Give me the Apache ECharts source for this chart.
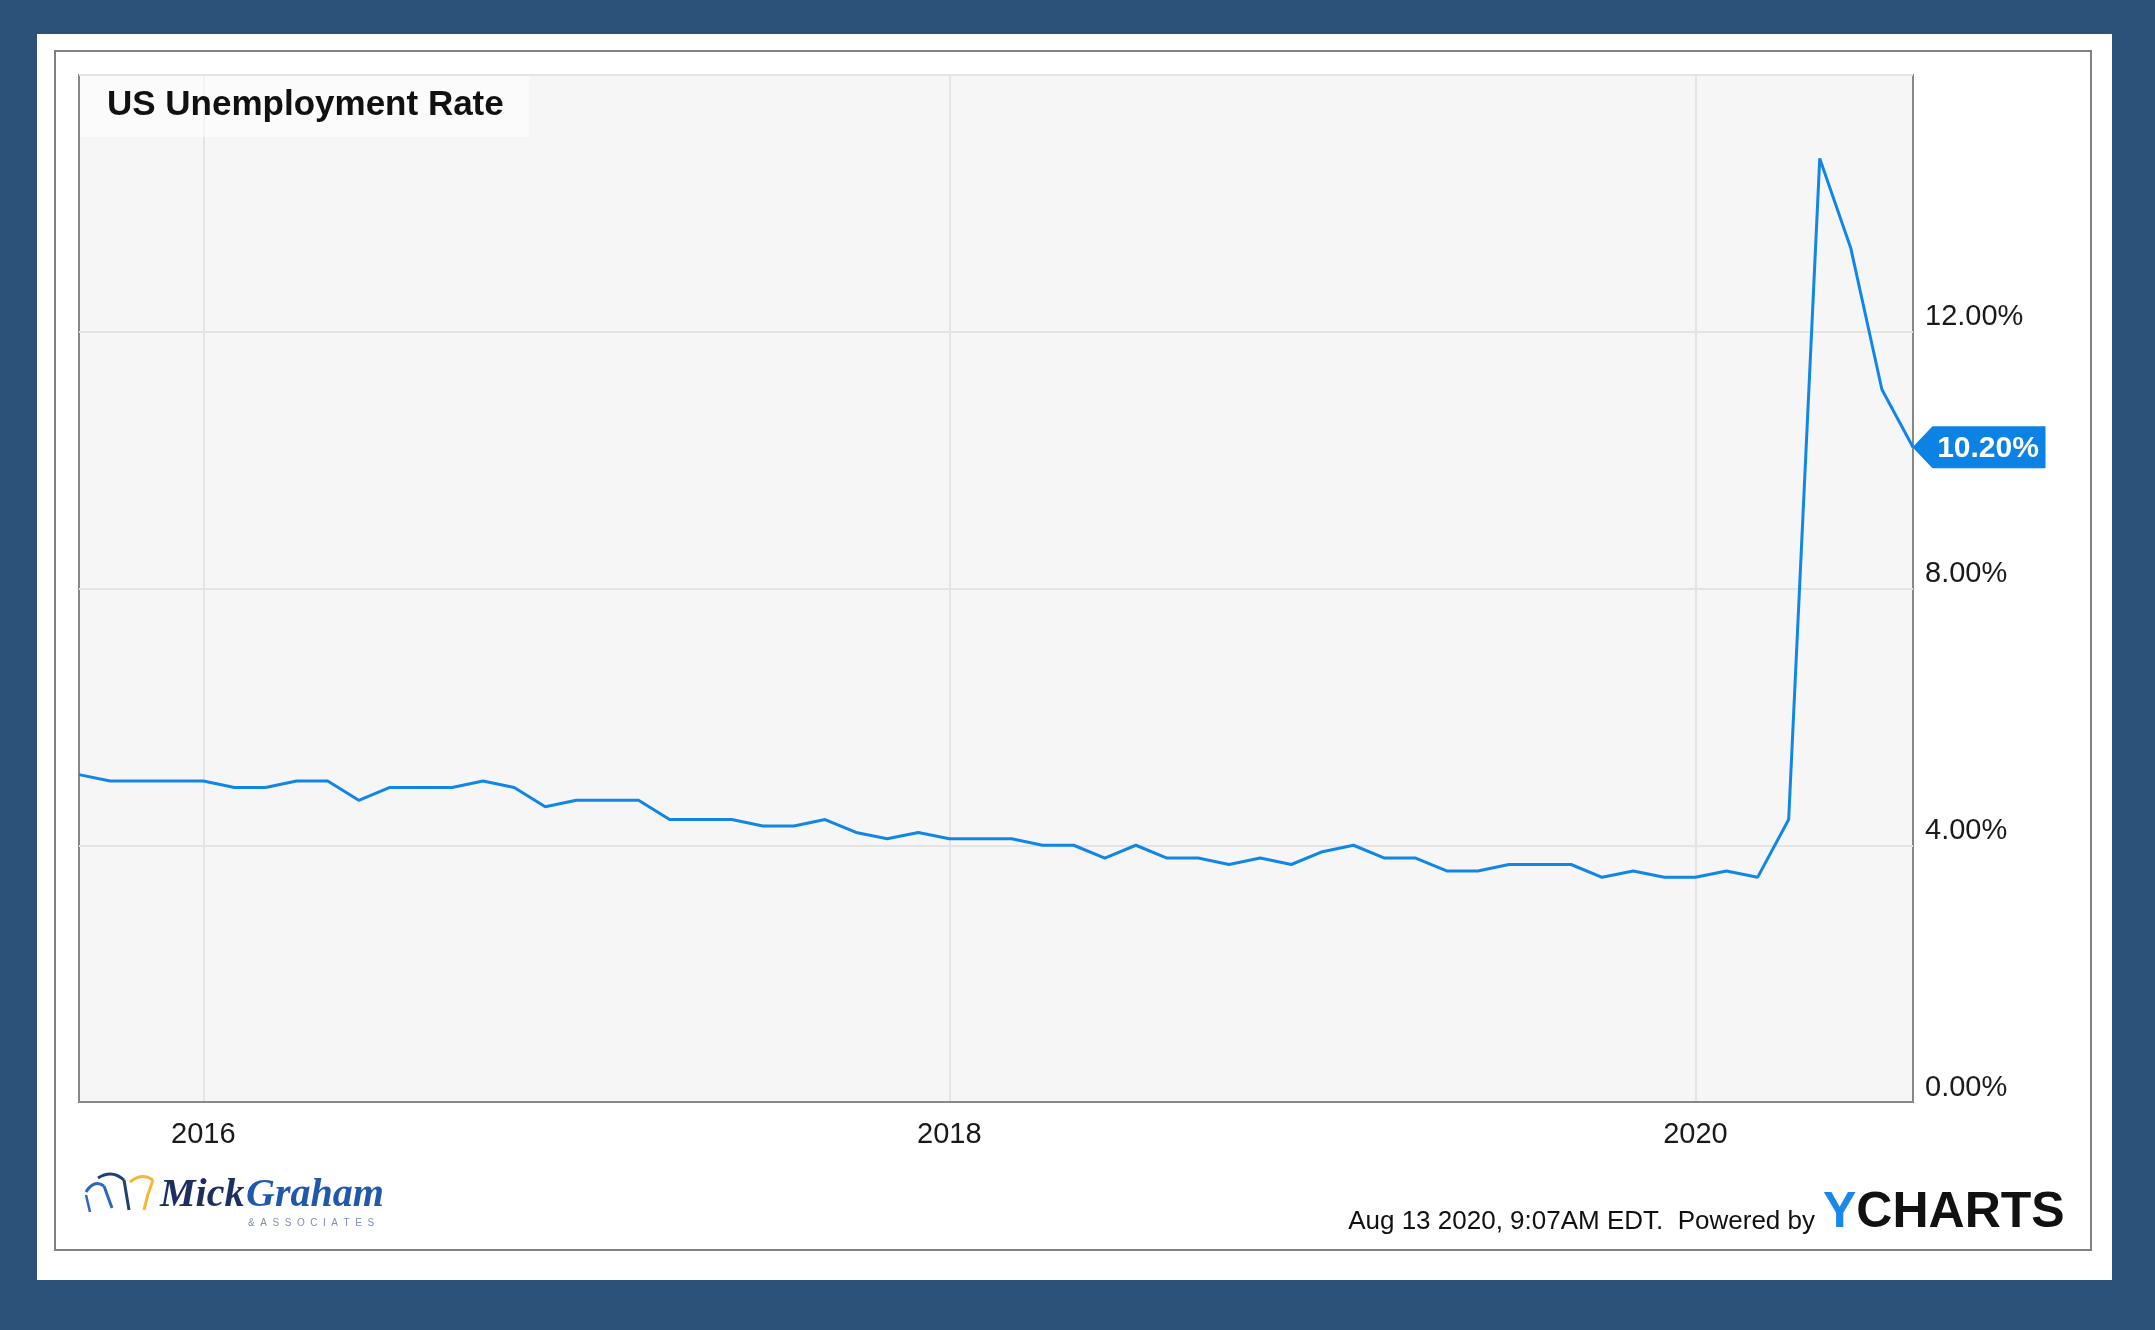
<!DOCTYPE html>
<html>
<head>
<meta charset="utf-8">
<script src="https://cdn.jsdelivr.net/npm/echarts@6/dist/echarts.min.js"></script>
<style>
  html, body { margin: 0; padding: 0; background: #2d5279; }
  #chart { width: 2155px; height: 1330px; }
</style>
</head>
<body>
<div id="chart"></div>
<script>
// Month-end observations, Aug 2015 – Jul 2020
const months2015 = ['2015-08','2015-09','2015-10','2015-11','2015-12'];
const months2016 = ['2016-01','2016-02','2016-03','2016-04','2016-05','2016-06','2016-07','2016-08','2016-09','2016-10','2016-11','2016-12'];
const months2017 = ['2017-01','2017-02','2017-03','2017-04','2017-05','2017-06','2017-07','2017-08','2017-09','2017-10','2017-11','2017-12'];
const months2018 = ['2018-01','2018-02','2018-03','2018-04','2018-05','2018-06','2018-07','2018-08','2018-09','2018-10','2018-11','2018-12'];
const months2019 = ['2019-01','2019-02','2019-03','2019-04','2019-05','2019-06','2019-07','2019-08','2019-09','2019-10','2019-11','2019-12'];
const months2020 = ['2020-01','2020-02','2020-03','2020-04','2020-05','2020-06','2020-07'];

const rate2015 = [5.1, 5.0, 5.0, 5.0, 5.0];
const rate2016 = [4.9, 4.9, 5.0, 5.0, 4.7, 4.9, 4.9, 4.9, 5.0, 4.9, 4.6, 4.7];
const rate2017 = [4.7, 4.7, 4.4, 4.4, 4.4, 4.3, 4.3, 4.4, 4.2, 4.1, 4.2, 4.1];
const rate2018 = [4.1, 4.1, 4.0, 4.0, 3.8, 4.0, 3.8, 3.8, 3.7, 3.8, 3.7, 3.9];
const rate2019 = [4.0, 3.8, 3.8, 3.6, 3.6, 3.7, 3.7, 3.7, 3.5, 3.6, 3.5, 3.5];
const rate2020 = [3.6, 3.5, 4.4, 14.7, 13.3, 11.1, 10.2];

// x tick positions (month-end of December = start of next year) and their labels
const xTickCats = ['2015-12', '2017-12', '2019-12'];
const xTickLabels = ['2016', '2018', '2020'];

// y ticks
const yMin = 0, yMax = 16, yStep = 4;

const categories = [].concat(months2015, months2016, months2017, months2018, months2019, months2020);
const values = [].concat(rate2015, rate2016, rate2017, rate2018, rate2019, rate2020);
const lastCat = categories[categories.length - 1];
const lastVal = values[values.length - 1];

const lineColor = '#1286e6';
const chart = echarts.init(document.getElementById('chart'), null, { renderer: 'canvas' });

const isTick = (idx, val) => xTickCats.indexOf(val) >= 0;

const option = {
  animation: false,
  backgroundColor: '#2d5279',
  grid: {
    left: 79, top: 75, right: 242, bottom: 228,
    show: true, backgroundColor: '#f6f6f6', borderColor: '#888888', borderWidth: 2
  },
  xAxis: {
    type: 'category',
    data: categories,
    boundaryGap: false,
    axisLine: { show: true, lineStyle: { color: '#888888', width: 2 } },
    axisTick: { show: false },
    axisLabel: {
      interval: isTick,
      formatter: (val) => xTickLabels[xTickCats.indexOf(val)] || '',
      fontFamily: 'Liberation Sans, Arial, sans-serif',
      fontSize: 29, color: '#1a1a1a', margin: 18
    },
    splitLine: { show: true, interval: isTick, lineStyle: { color: '#e4e4e4', width: 2 } }
  },
  yAxis: {
    type: 'value',
    position: 'right',
    min: yMin, max: yMax, interval: yStep,
    axisLine: { show: false },
    axisTick: { show: false },
    axisLabel: {
      formatter: (v) => (v === yMax ? '' : v.toFixed(2) + '%'),
      fontFamily: 'Liberation Sans, Arial, sans-serif',
      fontSize: 29, color: '#1a1a1a', margin: 12,
      verticalAlign: 'bottom'
    },
    splitLine: { show: true, lineStyle: { color: '#e4e4e4', width: 2 } }
  },
  series: [{
    type: 'line',
    data: values,
    showSymbol: false,
    lineStyle: { color: lineColor, width: 3 },
    itemStyle: { color: lineColor },
    z: 5,
    markPoint: {
      symbol: 'path://M0,21 L20,0 L133,0 L133,42 L20,42 Z',
      symbolSize: [133, 42],
      symbolOffset: [66, 0],
      itemStyle: { color: '#0c83e4' },
      label: {
        show: true, position: 'inside',
        formatter: (p) => Number(p.value).toFixed(2) + '%',
        color: '#ffffff', fontWeight: 'bold', fontSize: 30,
        fontFamily: 'Liberation Sans, Arial, sans-serif',
        offset: [9, 1]
      },
      data: [{ coord: [lastCat, lastVal], value: lastVal }]
    }
  }],
  graphic: [
    // white panel
    { type: 'rect', z: -10, silent: true, shape: { x: 37, y: 34, width: 2075, height: 1246 }, style: { fill: '#ffffff' } },
    // gray frame
    { type: 'rect', z: -9, silent: true, shape: { x: 55, y: 51, width: 2036, height: 1199 }, style: { fill: 'none', stroke: '#808080', lineWidth: 2 } },
    // title box
    { type: 'rect', z: 20, silent: true, shape: { x: 80, y: 76, width: 449, height: 61 }, style: { fill: 'rgba(255,255,255,0.55)' } },
    { type: 'text', z: 21, silent: true, x: 107, y: 105,
      style: { text: 'US Unemployment Rate', font: 'bold 35px "Liberation Sans", Arial, sans-serif', fill: '#111111', verticalAlign: 'middle', align: 'left' } },
    // footer
    { type: 'text', z: 21, silent: true, x: 1815, y: 1222,
      style: { text: 'Aug 13 2020, 9:07AM EDT.  Powered by', font: '26px "Liberation Sans", Arial, sans-serif', fill: '#111111', verticalAlign: 'middle', align: 'right' } },
    { type: 'text', z: 21, silent: true, x: 1823, y: 1213,
      style: {
        text: '{y|Y}{c|CHARTS}', verticalAlign: 'middle', align: 'left',
        rich: {
          y: { fontFamily: 'Liberation Sans', fontWeight: 'bold', fontSize: 50, fill: '#1a88e8' },
          c: { fontFamily: 'Liberation Sans', fontWeight: 'bold', fontSize: 50, fill: '#111111' }
        }
      } },
    // logo icon
    { type: 'bezierCurve', z: 21, silent: true, shape: { x1: 86, y1: 1192, cpx1: 94, cpy1: 1179, x2: 104, y2: 1186 }, style: { stroke: '#2f67b8', lineWidth: 3, fill: 'none' } },
    { type: 'line', z: 21, silent: true, shape: { x1: 104, y1: 1186, x2: 112, y2: 1208 }, style: { stroke: '#2f67b8', lineWidth: 3 } },
    { type: 'line', z: 21, silent: true, shape: { x1: 86, y1: 1195, x2: 90, y2: 1212 }, style: { stroke: '#2f67b8', lineWidth: 2.5 } },
    { type: 'bezierCurve', z: 21, silent: true, shape: { x1: 98, y1: 1178, cpx1: 112, cpy1: 1169, x2: 124, y2: 1180 }, style: { stroke: '#1f3f7a', lineWidth: 3, fill: 'none' } },
    { type: 'line', z: 21, silent: true, shape: { x1: 124, y1: 1180, x2: 129, y2: 1210 }, style: { stroke: '#1f3f7a', lineWidth: 3 } },
    { type: 'bezierCurve', z: 21, silent: true, shape: { x1: 130, y1: 1182, cpx1: 142, cpy1: 1172, x2: 153, y2: 1180 }, style: { stroke: '#f5b63a', lineWidth: 3, fill: 'none' } },
    { type: 'bezierCurve', z: 21, silent: true, shape: { x1: 153, y1: 1180, cpx1: 147, cpy1: 1195, x2: 144, y2: 1210 }, style: { stroke: '#f5b63a', lineWidth: 3, fill: 'none' } },
    // logo text
    { type: 'text', z: 21, silent: true, x: 160, y: 1196,
      style: { text: 'Mick', font: 'italic bold 40px "Liberation Serif", "DejaVu Serif", serif', fill: '#1d2f5e', verticalAlign: 'middle', align: 'left' } },
    { type: 'text', z: 21, silent: true, x: 246, y: 1196,
      style: { text: 'Graham', font: 'italic bold 40px "Liberation Serif", "DejaVu Serif", serif', fill: '#2059ab', verticalAlign: 'middle', align: 'left' } },
    { type: 'text', z: 21, silent: true, x: 248, y: 1223,
      style: { text: '&  A  S  S  O  C  I  A  T  E  S', font: '10px "Liberation Sans", Arial, sans-serif', fill: '#7d8fae', verticalAlign: 'middle', align: 'left' } }
  ]
};
chart.setOption(option);
</script>
</body>
</html>
